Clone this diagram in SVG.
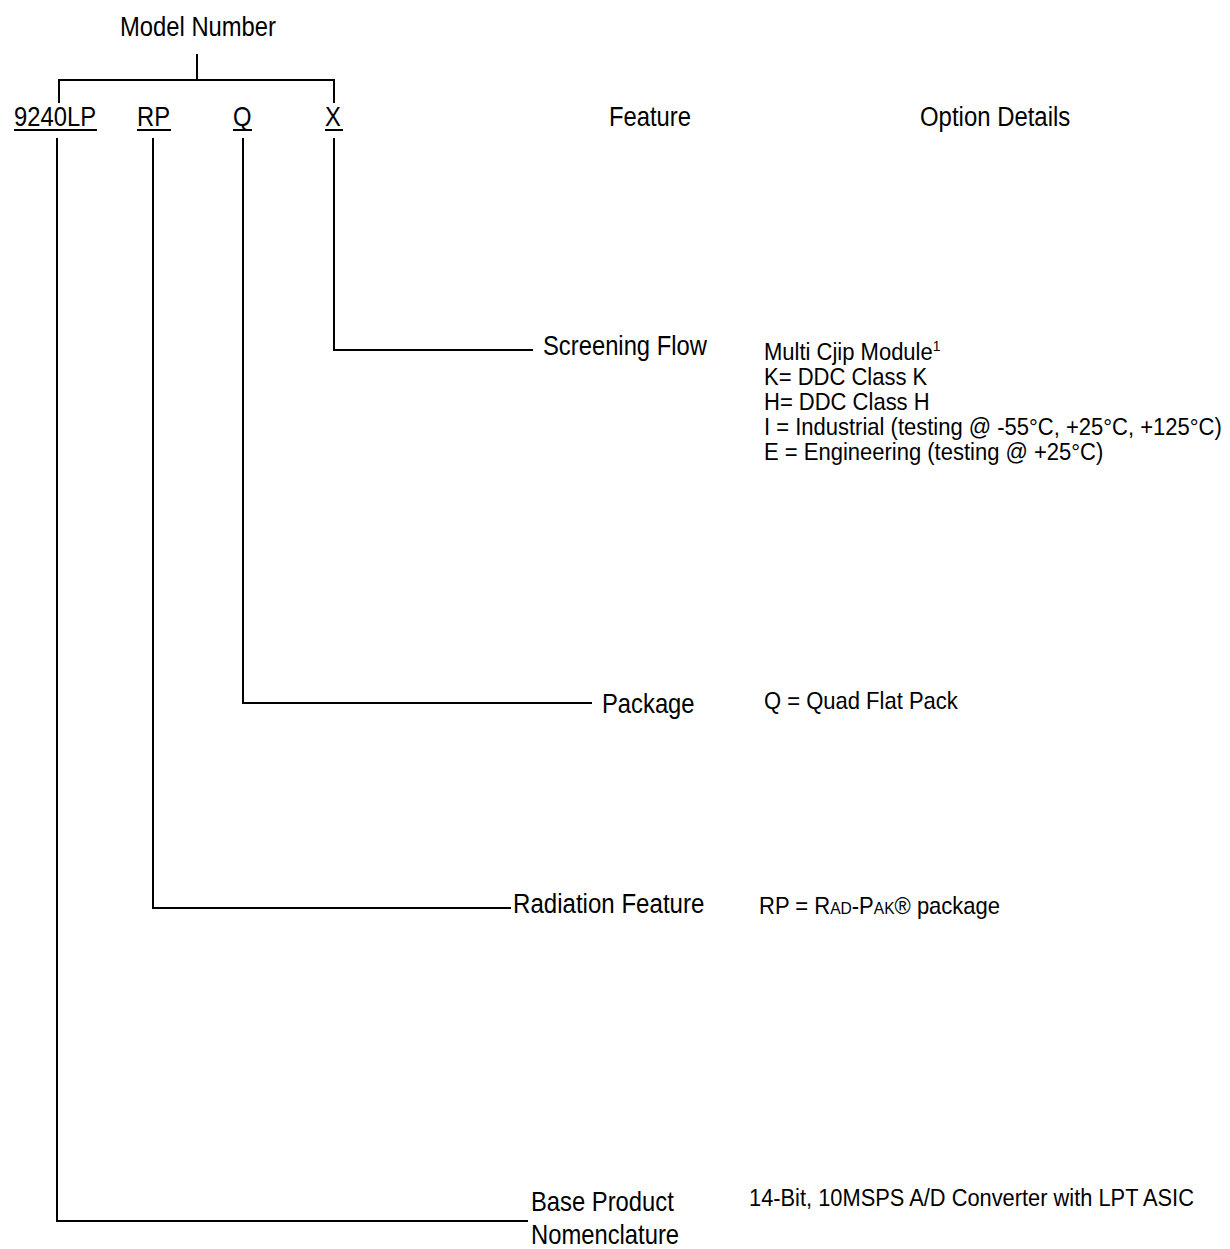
<svg xmlns="http://www.w3.org/2000/svg" width="1230" height="1249" viewBox="0 0 1230 1249">
<style>
text{font-family:"Liberation Sans",Arial,sans-serif;fill:#000}
.lbl{font-size:28px}
.det{font-size:24px}
.ln{stroke:#000;stroke-width:2;fill:none}
</style>
<rect width="1230" height="1249" fill="#fff"/>
<g id="model-number">
<text class="lbl" transform="translate(120,36) scale(0.85,1)">Model Number</text>
</g>
<g id="header-feature"><text class="lbl" transform="translate(609,126) scale(0.85,1)">Feature</text></g>
<g id="header-options"><text class="lbl" transform="translate(920,126) scale(0.855,1)">Option Details</text></g>
<g id="code-9240LP"><text class="lbl" transform="translate(14,126) scale(0.85,1)">9240LP</text><line class="ln" x1="14" y1="130" x2="97" y2="130"/></g>
<g id="code-RP"><text class="lbl" transform="translate(137,126) scale(0.85,1)">RP</text><line class="ln" x1="137" y1="130" x2="171" y2="130"/></g>
<g id="code-Q"><text class="lbl" transform="translate(233,126) scale(0.85,1)">Q</text><line class="ln" x1="233" y1="130" x2="252" y2="130"/></g>
<g id="code-X"><text class="lbl" transform="translate(325,126) scale(0.85,1)">X</text><line class="ln" x1="325" y1="130" x2="343" y2="130"/></g>
<g id="screening-flow">
<text class="lbl" transform="translate(543,355) scale(0.85,1)">Screening Flow</text>
<text class="det" transform="translate(764,360) scale(0.917,1)">Multi Cjip Module<tspan font-size="15" dy="-9">1</tspan></text>
<text class="det" transform="translate(764,385) scale(0.917,1)">K= DDC Class K</text>
<text class="det" transform="translate(764,410) scale(0.917,1)">H= DDC Class H</text>
<text class="det" transform="translate(764,435) scale(0.917,1)">I = Industrial (testing @ -55°C, +25°C, +125°C)</text>
<text class="det" transform="translate(764,460) scale(0.917,1)">E = Engineering (testing @ +25°C)</text>
</g>
<g id="package">
<text class="lbl" transform="translate(602,713) scale(0.85,1)">Package</text>
<text class="det" transform="translate(764,709) scale(0.917,1)">Q = Quad Flat Pack</text>
</g>
<g id="radiation-feature">
<text class="lbl" transform="translate(513,913) scale(0.86,1)">Radiation Feature</text>
<text class="det" transform="translate(759,914) scale(0.917,1)">RP = R<tspan font-size="17">AD</tspan>-P<tspan font-size="17">AK</tspan>® package</text>
</g>
<g id="base-product">
<text class="lbl" transform="translate(531,1211) scale(0.85,1)">Base Product</text>
<text class="lbl" transform="translate(531,1244) scale(0.85,1)">Nomenclature</text>
<text class="det" transform="translate(749,1206) scale(0.91,1)">14-Bit, 10MSPS A/D Converter with LPT ASIC</text>
</g>
<g id="connectors">
<polyline class="ln" points="197,54 197,80"/>
<polyline class="ln" points="59,103 59,80 334,80 334,103"/>
<polyline class="ln" points="334,138 334,350 533,350"/>
<polyline class="ln" points="243,138 243,703 592,703"/>
<polyline class="ln" points="153,138 153,908 511,908"/>
<polyline class="ln" points="57,138 57,1221 528,1221"/>
</g>
</svg>
